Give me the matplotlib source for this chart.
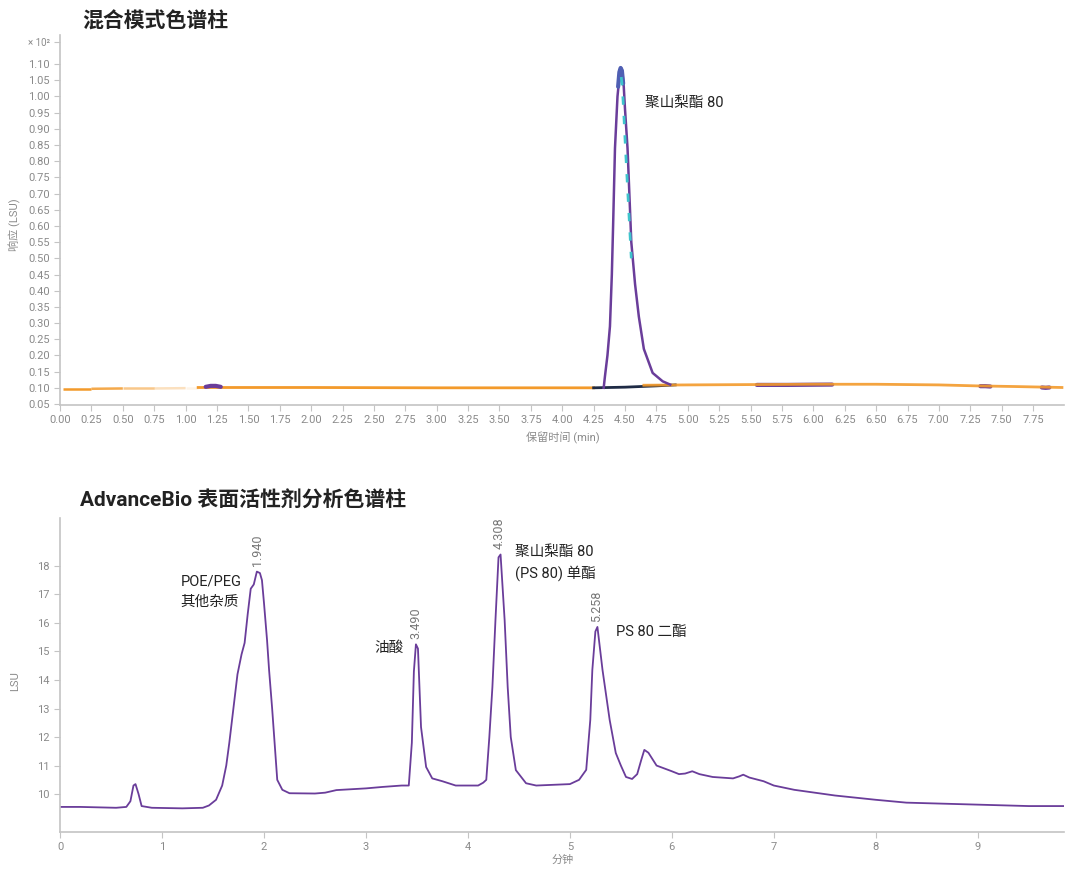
import matplotlib.pyplot as plt
import numpy as np

plt.rcParams['font.family'] = ['Roboto', 'Noto Sans CJK SC', 'DejaVu Sans']

# ---- top chart: mixed-mode column (values x 10^2 LSU) ----
orange_t1 = [0.02, 0.25, 0.50, 0.75, 1.00, 1.10]
orange_y1 = [0.097, 0.097, 0.098, 0.098, 0.099, 0.099]
orange_a1 = [1.0, 0.85, 0.55, 0.3, 0.1]
orange_t2 = [1.10, 2.00, 3.00, 4.00, 4.25]
orange_y2 = [0.101, 0.101, 0.100, 0.100, 0.100]
orange_t3 = [4.65, 5.00, 5.50, 6.00, 6.50, 7.00, 7.30, 7.60, 7.98]
orange_y3 = [0.108, 0.109, 0.110, 0.111, 0.111, 0.109, 0.106, 0.104, 0.101]

navy_t = [4.25, 4.50, 4.75, 4.90]
navy_y = [0.100, 0.102, 0.106, 0.109]

peak_t = [4.33, 4.34, 4.36, 4.38, 4.395, 4.405, 4.42, 4.44, 4.46, 4.47, 4.48,
          4.49, 4.50, 4.52, 4.55, 4.58, 4.61, 4.65, 4.72, 4.80, 4.86]
peak_y = [0.100, 0.135, 0.20, 0.29, 0.45, 0.60, 0.84, 1.00, 1.08, 1.088, 1.07,
          1.03, 0.96, 0.84, 0.55, 0.42, 0.32, 0.22, 0.146, 0.12, 0.11]

cap_t = [4.445, 4.455, 4.465, 4.475, 4.485]
cap_y = [1.03, 1.075, 1.088, 1.08, 1.04]

cyan_t = [4.47, 4.48, 4.49, 4.50, 4.52, 4.55]
cyan_y = [1.06, 1.02, 0.95, 0.87, 0.72, 0.50]

bumps = [
    ([1.16, 1.20, 1.24, 1.28], [0.103, 0.106, 0.106, 0.103]),
    ([5.55, 5.80, 6.15], [0.109, 0.109, 0.110]),
    ([7.33, 7.37, 7.41], [0.105, 0.105, 0.104]),
    ([7.82, 7.85, 7.88], [0.101, 0.100, 0.101]),
]

# ---- bottom chart: AdvanceBio surfactant column ----
t2 = [0.00, 0.20, 0.55, 0.65, 0.69, 0.72, 0.74, 0.77, 0.80, 0.90, 1.20, 1.40,
      1.46, 1.53, 1.59, 1.63, 1.66, 1.70, 1.74, 1.78, 1.81, 1.84, 1.87, 1.90,
      1.93, 1.96, 1.98, 2.00, 2.03, 2.05, 2.08, 2.10, 2.13, 2.18, 2.25, 2.50,
      2.60, 2.71, 3.00, 3.16, 3.35, 3.42, 3.45, 3.47, 3.49, 3.51, 3.54, 3.59,
      3.65, 3.75, 3.88, 4.10, 4.15, 4.18, 4.21, 4.24, 4.27, 4.30, 4.32, 4.36,
      4.39, 4.42, 4.47, 4.57, 4.67, 5.00, 5.09, 5.16, 5.20, 5.22, 5.25, 5.27,
      5.32, 5.39, 5.45, 5.50, 5.55, 5.61, 5.66, 5.70, 5.73, 5.77, 5.85, 6.00,
      6.07, 6.13, 6.20, 6.27, 6.40, 6.60, 6.66, 6.70, 6.76, 6.90, 7.00, 7.20,
      7.40, 7.60, 8.00, 8.30, 8.50, 9.00, 9.50, 9.85]
lsu = [9.55, 9.55, 9.52, 9.55, 9.75, 10.3, 10.35, 10.0, 9.58, 9.52, 9.50, 9.52,
       9.60, 9.80, 10.3, 11.0, 11.8, 13.0, 14.2, 14.9, 15.3, 16.3, 17.2, 17.35,
       17.8, 17.75, 17.5, 16.7, 15.4, 14.35, 13.0, 12.0, 10.5, 10.15, 10.03, 10.02,
       10.05, 10.14, 10.2, 10.25, 10.3, 10.3, 11.8, 14.3, 15.25, 15.1, 12.35, 10.95,
       10.55, 10.45, 10.3, 10.3, 10.4, 10.5, 12.0, 13.75, 16.1, 18.3, 18.4, 16.1,
       13.75, 12.0, 10.84, 10.38, 10.3, 10.35, 10.5, 10.85, 12.6, 14.35, 15.7, 15.86,
       14.35, 12.6, 11.44, 11.0, 10.6, 10.53, 10.7, 11.2, 11.55, 11.45, 11.0, 10.8,
       10.7, 10.72, 10.8, 10.7, 10.6, 10.55, 10.62, 10.68, 10.58, 10.45, 10.3, 10.15,
       10.05, 9.95, 9.8, 9.7, 9.68, 9.63, 9.58, 9.58]

peak_labels = ['1.940', '3.490', '4.308', '5.258']
peak_rt = [1.94, 3.49, 4.308, 5.258]
peak_top = [17.8, 15.25, 18.4, 15.85]

grey = '#8a8a8a'
spine_c = '#c4c4c4'
purple = '#6a3d9a'
orange = '#f39a2b'

fig = plt.figure(figsize=(10.8, 8.76), dpi=100)


def style(ax):
    for s in ['top', 'right']:
        ax.spines[s].set_visible(False)
    for s in ['left', 'bottom']:
        ax.spines[s].set_color(spine_c)
        ax.spines[s].set_linewidth(1.2)
    ax.tick_params(colors=spine_c, labelcolor=grey, labelsize=8, length=4, width=0.8)


# top axes
ax1 = fig.add_axes([0.0556, 0.5377, 0.930, 0.4224])
style(ax1)
for i in range(len(orange_t1) - 1):
    ax1.plot(orange_t1[i:i + 2], orange_y1[i:i + 2], color=orange, lw=1.8,
             alpha=orange_a1[i], solid_capstyle='butt')
ax1.plot(orange_t2, orange_y2, color=orange, lw=2)
ax1.plot(navy_t, navy_y, color='#1f2b45', lw=2)
for bt, by in bumps:
    ax1.plot(bt, by, color=purple, lw=3, solid_capstyle='round')
ax1.plot(orange_t3, orange_y3, color=orange, lw=2, alpha=0.9)
ax1.plot(peak_t, peak_y, color=purple, lw=1.8)
ax1.plot(cap_t, cap_y, color='#4f5fb3', lw=3, solid_capstyle='round')
ax1.plot(cyan_t, cyan_y, color='#3ec4cc', lw=2, dashes=(3, 4))
ax1.set_xlim(0, 8.0)
ax1.set_ylim(0.047, 1.19)
ax1.set_xticks(np.arange(0, 7.76, 0.25))
ax1.set_xticklabels([f'{v:.2f}' for v in np.arange(0, 7.76, 0.25)])
yt = list(np.arange(0.05, 1.101, 0.05))
ax1.set_yticks(yt + [1.168])
ax1.set_yticklabels([f'{v:.2f}' for v in yt] + ['× 10²'])
ax1.get_yticklabels()[-1].set_fontsize(7)
ax1.text(4.66, 0.98, '聚山梨酯 80', fontsize=10.5, color='#222222', va='center')

fig.text(0.076, 0.975, '混合模式色谱柱', fontsize=15, fontweight='bold',
         color='#222222', va='center')
fig.text(0.014, 0.743, '响应 (LSU)', fontsize=8, color=grey, rotation=90,
         ha='center', va='center')
fig.text(0.521, 0.5, '保留时间 (min)', fontsize=8, color=grey, ha='center', va='center')

# bottom axes
ax2 = fig.add_axes([0.0556, 0.0502, 0.930, 0.3585])
style(ax2)
ax2.plot(t2, lsu, color=purple, lw=1.3)
ax2.set_xlim(0, 9.85)
ax2.set_ylim(8.67, 19.68)
ax2.set_xticks(range(0, 10))
ax2.set_yticks(range(10, 19))
for lab, rt, top in zip(peak_labels, peak_rt, peak_top):
    ax2.text(rt, top + 0.18, lab, rotation=90, ha='center', va='bottom',
             fontsize=9, color='#777777')
ax2.text(1.18, 17.45, 'POE/PEG', fontsize=10.5, color='#222222', va='center')
ax2.text(1.18, 16.75, '其他杂质', fontsize=10.5, color='#222222', va='center')
ax2.text(3.08, 15.12, '油酸', fontsize=10.5, color='#222222', va='center')
ax2.text(4.465, 18.49, '聚山梨酯 80', fontsize=10.5, color='#222222', va='center')
ax2.text(4.465, 17.75, '(PS 80) 单酯', fontsize=10.5, color='#222222', va='center')
ax2.text(5.456, 15.68, 'PS 80 二酯', fontsize=10.5, color='#222222', va='center')

fig.text(0.074, 0.428, 'AdvanceBio 表面活性剂分析色谱柱', fontsize=15,
         fontweight='bold', color='#222222', va='center')
fig.text(0.014, 0.2226, 'LSU', fontsize=8, color=grey, rotation=90,
         ha='center', va='center')
fig.text(0.521, 0.0183, '分钟', fontsize=8, color=grey, ha='center', va='center')

fig.savefig('out.png', dpi=100)
